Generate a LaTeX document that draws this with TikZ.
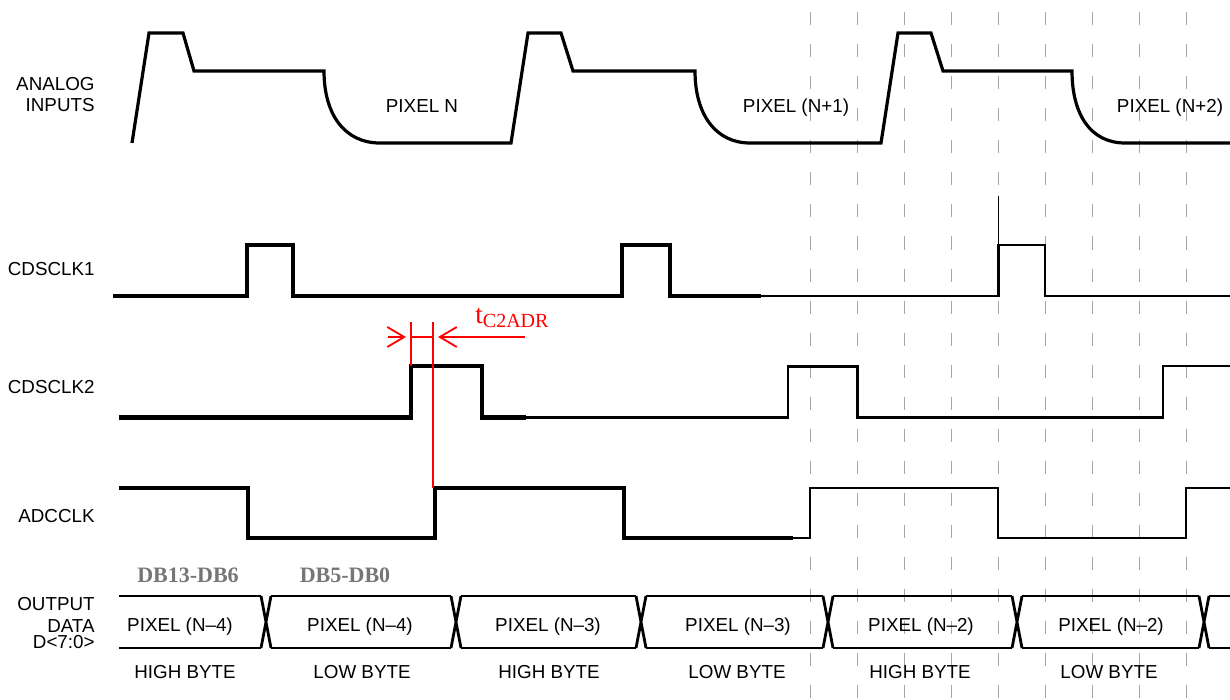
\documentclass[tikz,border=0pt]{standalone}
\usepackage{fontspec}
\setmainfont{Liberation Sans}
\newfontfamily\timesfont{Liberation Serif}
\usepackage{tikz}
\usetikzlibrary{arrows.meta}
\definecolor{dbgray}{RGB}{118,118,118}
\definecolor{gridgray}{RGB}{165,165,165}

\begin{document}
\begin{tikzpicture}[x=0.5pt, y=-0.5pt, line join=miter,
    every node/.style={inner sep=0pt, font=\fontsize{9.4}{10}\selectfont},
    lbl/.style={anchor=base east},
    txt/.style={anchor=base},
    fat/.style={line width=1.6pt},
    slim/.style={line width=1.1pt},
    bus/.style={line width=1.4pt},
    grid/.style={gridgray, line width=0.5pt, dash pattern=on 6.5pt off 9.5pt},
    dim/.style={red, line width=0.9pt},
    barb/.style={-{Straight Barb[length=8.5pt, width=10pt]}}]
  \useasboundingbox (0,0) rectangle (1230,700);

  % dashed grid
  \foreach \k in {0,...,8}
    \draw[grid] (810+47*\k,12.5) -- (810+47*\k,700);

  % signal names
  \node[lbl] (ana1) at (95,91) {ANALOG};
  \node[lbl] (ana2) at (95,112) {INPUTS};
  \node[lbl] (clk1) at (95,275) {CDSCLK1};
  \node[lbl] (clk2) at (95,393) {CDSCLK2};
  \node[lbl] (adc) at (95,522) {ADCCLK};
  \node[lbl] (out1) at (95,610) {OUTPUT};
  \node[lbl] (out2) at (95,632) {DATA};
  \node[lbl] (out3) at (95,648) {D<7:0>};

  % analog inputs
  \draw[fat] (132,143) -- (149,33) -- (183,33) -- (194,71) -- (324,71)
    .. controls (324,115) and (345,143) .. (380,143)
    -- (511,143) -- (528,33) -- (561,33) -- (573,71) -- (695,71)
    .. controls (695,115) and (716,143) .. (750,143)
    -- (881,143) -- (898,33) -- (931,33) -- (943,71) -- (1072,71)
    .. controls (1072,115) and (1091,143) .. (1125,143) -- (1230,143);
  \node[txt] (pxn) at (422,113) {PIXEL N};
  \node[txt] (pxn1) at (796,113) {PIXEL (N+1)};
  \node[txt] (pxn2) at (1170,113) {PIXEL (N+2)};

  % CDSCLK1
  \draw[fat] (113,296) -- (247,296) -- (247,245) -- (293,245) -- (293,296)
    -- (622,296) -- (622,245) -- (670,245) -- (670,296) -- (761,296);
  \draw[slim] (761,296) -- (998.5,296) -- (998.5,245) -- (1045,245)
    -- (1045,296) -- (1230,296);
  \draw[line width=0.5pt] (998.5,196) -- (998.5,245);

  % CDSCLK2
  \draw[line width=2.2pt] (119,417.5) -- (411,417.5) -- (411,366) -- (482,366)
    -- (482,417.5) -- (526,417.5);
  \draw[slim] (526,417.5) -- (788,417.5) -- (788,366.5) -- (857.5,366.5)
    -- (857.5,417.5) -- (1163,417.5) -- (1163,366) -- (1230,366);

  % ADCCLK
  \draw[fat] (119,488) -- (248,488) -- (248,538) -- (435,538) -- (435,488)
    -- (624,488) -- (624,538) -- (793,538);
  \draw[slim] (793,538) -- (810,538) -- (810,488) -- (998,488) -- (998,538)
    -- (1186,538) -- (1186,488) -- (1230,488);

  % tC2ADR
  \coordinate (up2) at (411,322);
  \coordinate (upadc) at (433,322);
  \draw[dim] (up2) -- (411,366);
  \draw[dim] (upadc) -- (433,488);
  \draw[dim, barb] (388,337) -- (406,337);
  \draw[dim] (411,337) -- (433,337);
  \draw[dim, barb] (525,337) -- (438,337);
  \node[anchor=base west, red, font=\timesfont\fontsize{13.5}{14}\selectfont] (tc2adr)
    at (475,323) {t\raisebox{-2pt}{\fontsize{10}{11}\selectfont C2ADR}};

  % output data bus
  \foreach \a/\b in {119/261, 271/451, 461/636, 646/823, 833/1012, 1022/1199, 1209/1230}
    \draw[bus] (\a,596) -- (\b,596) (\a,648) -- (\b,648);
  \foreach \c in {266,456,641,828,1017,1204}
    \draw[bus] (\c-5,596) -- (\c+5,648) (\c-5,648) -- (\c+5,596);

  \node[txt, dbgray, font=\timesfont\bfseries\fontsize{11}{12}\selectfont] (db1) at (188,582) {DB13-DB6};
  \node[txt, dbgray, font=\timesfont\bfseries\fontsize{11}{12}\selectfont] (db2) at (345,582) {DB5-DB0};

  \node[txt] (w1) at (180,631) {PIXEL (N–4)};
  \node[txt] (w2) at (360,631) {PIXEL (N–4)};
  \node[txt] (w3) at (548,631) {PIXEL (N–3)};
  \node[txt] (w4) at (738,631) {PIXEL (N–3)};
  \node[txt] (w5) at (921,631) {PIXEL (N–2)};
  \node[txt] (w6) at (1111,631) {PIXEL (N–2)};

  \node[txt] (b1) at (185,678) {HIGH BYTE};
  \node[txt] (b2) at (362,678) {LOW BYTE};
  \node[txt] (b3) at (549,678) {HIGH BYTE};
  \node[txt] (b4) at (737,678) {LOW BYTE};
  \node[txt] (b5) at (920,678) {HIGH BYTE};
  \node[txt] (b6) at (1109,678) {LOW BYTE};
\end{tikzpicture}
\end{document}
